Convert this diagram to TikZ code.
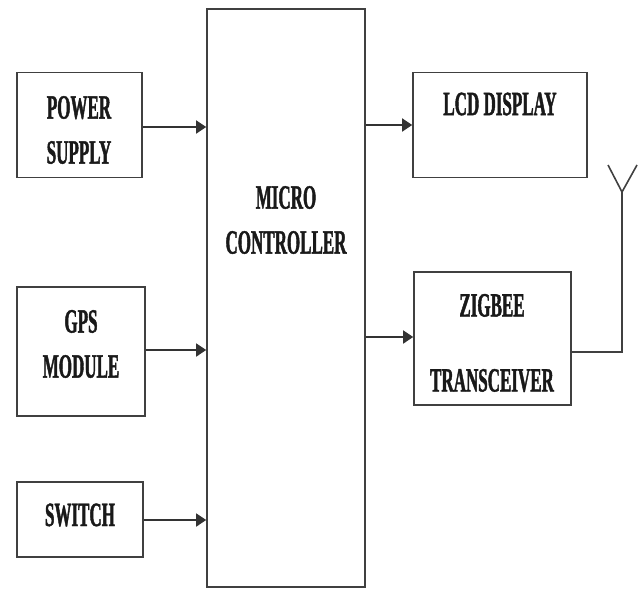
\documentclass[tikz,border=0pt]{standalone}
\usepackage{fontspec}
\setmainfont{Liberation Serif}
\newfontfamily\condfont[FakeStretch=0.5, FakeBold=1.2, UprightFont={* Bold}, BoldFont={* Bold}]{Liberation Serif}
\usetikzlibrary{arrows.meta}
\tikzset{
  blk/.style={draw=black!75, line width=1.6pt, fill=white, rectangle, inner sep=0pt},
  txt/.style={font=\condfont\fontsize{34}{45}\selectfont, align=center, inner sep=0pt, text=black!90},
  arr/.style={draw=black!80, line width=1.6pt, -{Triangle[length=10pt,width=13pt]}},
  wire/.style={draw=black!75, line width=1.6pt},
}
\begin{document}
\begin{tikzpicture}[x=1pt,y=-1pt]
\useasboundingbox (0,0) rectangle (642,592);
% boxes
\node[blk, minimum width=158pt, minimum height=578pt] (mc) at (286,298) {};
\node[blk, minimum width=125pt, minimum height=105pt] (ps) at (79.5,125) {};
\node[blk, minimum width=128pt, minimum height=129pt] (gps) at (81,351.5) {};
\node[blk, minimum width=126pt, minimum height=75pt] (sw) at (80,519.5) {};
\node[blk, minimum width=174pt, minimum height=105pt] (lcd) at (500,125) {};
\node[blk, minimum width=157pt, minimum height=133pt] (zb) at (492.5,338.5) {};
% texts
\node[txt] (mctext) at (286,220) {MICRO\\CONTROLLER};
\node[txt] (pstext) at (79,130) {POWER\\SUPPLY};
\node[txt] (gpstext) at (81,344) {GPS\\MODULE};
\node[txt] (swtext) at (80,515) {SWITCH};
\node[txt] (lcdtext) at (500,104) {LCD DISPLAY};
\node[txt, font=\condfont\fontsize{34}{75}\selectfont] (zbtext) at (492,343) {ZIGBEE\\TRANSCEIVER};
% arrows
\draw[arr] (ps.east |- 0,127) -- (mc.west |- 0,127);
\draw[arr] (gps.east |- 0,350) -- (mc.west |- 0,350);
\draw[arr] (sw.east |- 0,520) -- (mc.west |- 0,520);
\draw[arr] (mc.east |- 0,125) -- (lcd.west |- 0,125);
\draw[arr] (mc.east |- 0,337) -- (zb.west |- 0,337);
% antenna
\coordinate (antb) at (622,192);
\coordinate (antl) at (608,165);
\coordinate (antr) at (637,165);
\draw[wire] (zb.east |- 0,352) -| (antb);
\draw[wire, line join=miter] (antl) -- (antb) -- (antr);
\end{tikzpicture}
\end{document}
